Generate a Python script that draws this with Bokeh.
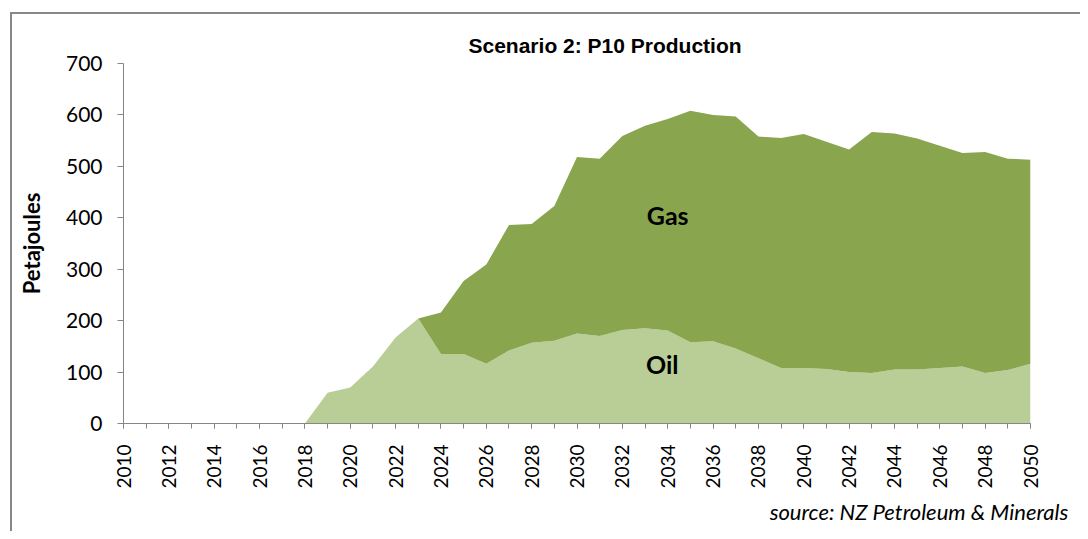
import math
from bokeh.plotting import figure
from bokeh.models import ColumnDataSource, Label, Title, Range1d, SingleIntervalTicker
from bokeh.embed import file_html
from bokeh.resources import INLINE

years = list(range(2010, 2051))
oil = [0, 0, 0, 0, 0, 0, 0, 0, 0, 60, 70, 111, 167, 204, 135, 135, 116, 142, 157, 161,
       175, 170, 182, 185, 181, 158, 160, 146, 127, 108, 108, 106, 100, 98, 105, 105,
       108, 111, 98, 104, 116]
total = [0, 0, 0, 0, 0, 0, 0, 0, 0, 60, 70, 111, 167, 204, 216, 277, 309, 386, 388, 423,
         518, 515, 559, 579, 592, 608, 600, 597, 558, 555, 563, 548, 533, 567, 564, 554,
         540, 526, 528, 515, 513]
gas = [t - o for t, o in zip(total, oil)]

OIL_COLOR = "#B9CD96"
GAS_COLOR = "#89A54E"
AXIS_COLOR = "#868686"
FONT = "Lato"

source = ColumnDataSource(dict(year=years, oil=oil, gas=gas))

p = figure(width=1080, height=531, output_backend="svg", toolbar_location=None,
           x_range=Range1d(2010, 2050), y_range=Range1d(0, 700),
           min_border_left=123, min_border_right=50, min_border_top=63, min_border_bottom=108)
p.outline_line_color = None
p.grid.visible = False
p.background_fill_color = "white"
p.border_fill_color = None
# chart-area border (left and top edges visible in the window)
p.styles = {
    "background": ("linear-gradient(#888888, #888888) 10px 12px / 2px 100% no-repeat, "
                   "linear-gradient(#888888, #888888) 10px 12px / 100% 2px no-repeat, white"),
}

p.varea_stack(["oil", "gas"], x="year", color=[OIL_COLOR, GAS_COLOR], source=source)

# axes
p.xaxis.ticker = SingleIntervalTicker(interval=2, num_minor_ticks=2)
p.xaxis.major_label_orientation = math.pi / 2
p.xaxis.major_tick_out = 5
p.xaxis.major_tick_in = 0
p.xaxis.minor_tick_out = 5
p.xaxis.minor_tick_in = 0
p.xaxis.major_label_standoff = 16
p.yaxis.ticker = SingleIntervalTicker(interval=100, num_minor_ticks=0)
p.yaxis.major_tick_out = 6
p.yaxis.major_tick_in = 0
p.yaxis.minor_tick_line_color = None
p.yaxis.major_label_standoff = 15
for ax in (p.xaxis, p.yaxis):
    ax.axis_line_color = AXIS_COLOR
    ax.major_tick_line_color = AXIS_COLOR
    ax.minor_tick_line_color = AXIS_COLOR
    ax.major_label_text_font = FONT
    ax.major_label_text_color = "black"
p.xaxis.major_label_text_font_size = "19px"
p.yaxis.major_label_text_font_size = "21px"
p.yaxis.axis_label = "Petajoules"
p.yaxis.axis_label_text_font = FONT
p.yaxis.axis_label_text_font_style = "bold"
p.yaxis.axis_label_text_font_size = "22px"
p.yaxis.axis_label_text_color = "black"
p.yaxis.axis_label_standoff = 18

p.add_layout(Title(text="Scenario 2: P10 Production", text_font="Liberation Sans",
                   text_font_style="bold", text_font_size="21px", text_color="black",
                   align="left", offset=345, standoff=13), "above")
p.add_layout(Title(text="source:  NZ Petroleum & Minerals", text_font=FONT,
                   text_font_style="italic", text_font_size="22px", text_color="black",
                   align="right", offset=-43, standoff=9), "below")

p.add_layout(Label(x=2034.0, y=406, text="Gas", text_font=FONT, text_font_style="bold",
                   text_font_size="25px", text_color="black",
                   text_align="center", text_baseline="middle"))
p.add_layout(Label(x=2033.76, y=115, text="Oil", text_font=FONT, text_font_style="bold",
                   text_font_size="25px", text_color="black",
                   text_align="center", text_baseline="middle"))

open("out.html", "w").write(file_html(p, INLINE))
